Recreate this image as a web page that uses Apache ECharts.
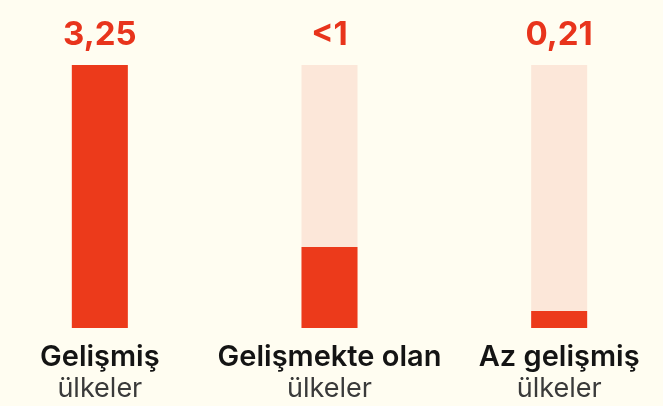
<!DOCTYPE html>
<html>
<head>
<meta charset="utf-8">
<script src="https://cdn.jsdelivr.net/npm/echarts@6/dist/echarts.min.js"></script>
<style>
  html, body { margin: 0; padding: 0; background: #fffdf1; }
  #chart { width: 663px; height: 406px; }
</style>
</head>
<body>
<div id="chart"></div>
<script>
var myChart = echarts.init(document.getElementById('chart'));

// kategoriler (iki satır)
var catTop = ['Gelişmiş', 'Gelişmekte olan', 'Az gelişmiş'];
var catBottom = ['ülkeler', 'ülkeler', 'ülkeler'];
var values = [3.25, 1.0, 0.21];
var valueLabels = ['3,25', '<1', '0,21'];
var maxValue = 3.25;

var fullData = values.map(function () { return maxValue; });

var option = {
    backgroundColor: '#fffdf1',
    animation: false,
    grid: {
        left: -15,
        width: 689,
        top: 65,
        bottom: 78,
        outerBoundsMode: 'none'
    },
    xAxis: {
        type: 'category',
        data: catTop,
        axisLine: { show: false },
        axisTick: { show: false },
        axisLabel: {
            margin: 13,
            interval: 0,
            hideOverlap: false,
            formatter: function (value, index) {
                return '{a|' + value + '}\n{b|' + catBottom[index] + '}';
            },
            rich: {
                a: {
                    fontFamily: 'Inter',
                    fontWeight: 600,
                    fontSize: 29,
                    color: '#141414',
                    lineHeight: 32
                },
                b: {
                    fontFamily: 'Inter',
                    fontWeight: 400,
                    fontSize: 27,
                    color: '#3a3a3a',
                    lineHeight: 32
                }
            }
        }
    },
    yAxis: {
        type: 'value',
        min: 0,
        max: maxValue,
        show: false
    },
    series: [
        {
            // arka plan çubukları + değer etiketleri
            type: 'bar',
            data: fullData,
            barWidth: 56,
            barGap: '-100%',
            itemStyle: { color: '#fce7d9' },
            label: {
                show: true,
                position: 'top',
                distance: 13,
                formatter: function (p) { return valueLabels[p.dataIndex]; },
                fontFamily: 'Inter',
                fontWeight: 700,
                fontSize: 33,
                color: '#e8341c'
            },
            silent: true
        },
        {
            type: 'bar',
            data: values,
            barWidth: 56,
            barGap: '-100%',
            itemStyle: { color: '#ec3a1b' }
        }
    ]
};
myChart.setOption(option);
</script>
</body>
</html>
